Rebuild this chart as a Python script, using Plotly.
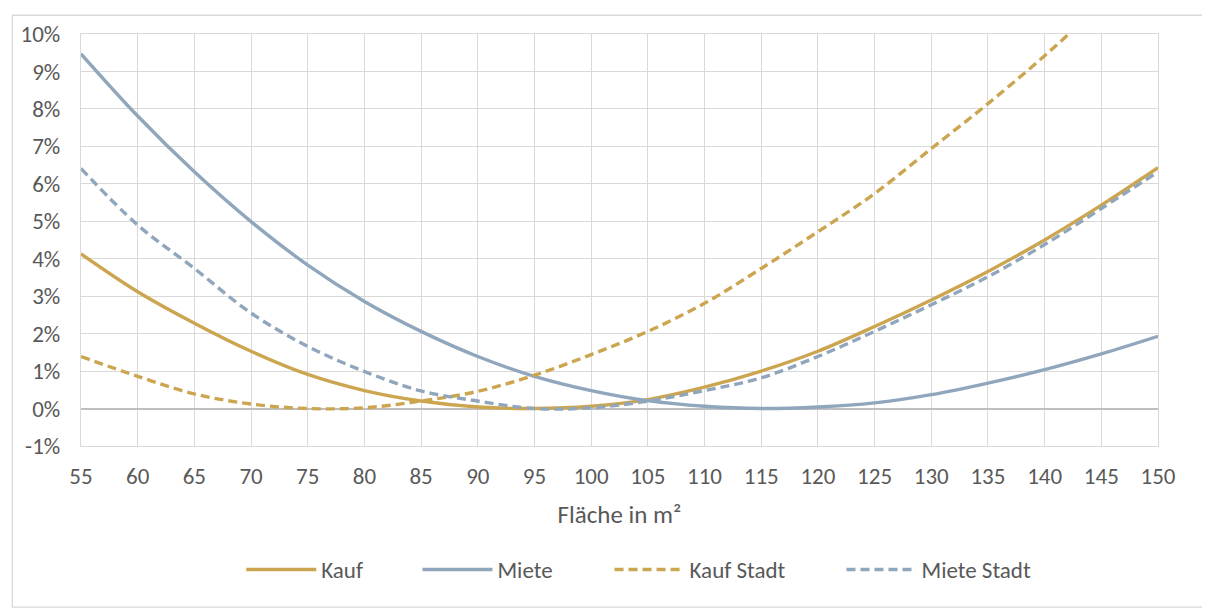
import plotly.graph_objects as go

flaeche = [55, 60, 65, 70, 75, 80, 85, 90, 95, 100, 105, 110, 115, 120, 125, 130, 135, 140, 145, 150]
kauf = [4.13, 3.12, 2.28, 1.53, 0.91, 0.48, 0.20, 0.04, 0.00, 0.06, 0.24, 0.57, 1.00, 1.53, 2.19, 2.90, 3.66, 4.50, 5.43, 6.43]
miete = [9.47, 7.81, 6.32, 4.99, 3.83, 2.86, 2.06, 1.39, 0.86, 0.48, 0.21, 0.06, 0.00, 0.04, 0.15, 0.37, 0.68, 1.04, 1.46, 1.93]
kauf_stadt = [1.39, 0.86, 0.39, 0.12, 0.00, 0.02, 0.20, 0.46, 0.89, 1.44, 2.06, 2.81, 3.74, 4.72, 5.74, 6.94, 8.14, 9.42, 10.80, 12.20]
miete_stadt = [6.41, 4.90, 3.74, 2.55, 1.66, 0.99, 0.47, 0.20, 0.00, 0.02, 0.20, 0.48, 0.82, 1.39, 2.06, 2.77, 3.52, 4.38, 5.34, 6.32]
y_ticks = list(range(-1, 11))
y_labels = [f"{v}%" for v in y_ticks]
x_ticks = flaeche

GOLD = "#CCA550"
BLUE = "#90A6BC"
FONT = "Carlito, Open Sans, sans-serif"
TXT = "#595959"

L, R, T, B = 68, 60, 21, 172
PW = 1210 - L - R
PH = 610 - T - B

fig = go.Figure()
series = [
    ("Kauf", kauf, GOLD, "solid", "legend", 229),
    ("Miete", miete, BLUE, "solid", "legend2", 406),
    ("Kauf Stadt", kauf_stadt, GOLD, "9px,5px", "legend3", 599),
    ("Miete Stadt", miete_stadt, BLUE, "9px,5px", "legend4", 832),
]
legend_cfg = {}
for name, vals, col, dash, lg, lpx in series:
    fig.add_trace(go.Scatter(
        x=flaeche, y=vals, name=name, mode="lines", legend=lg,
        line=dict(color=col, width=3.4, dash=dash, shape="spline", smoothing=1.0),
        cliponaxis=True,
    ))
    legend_cfg[lg] = dict(orientation="h", x=(lpx - L) / PW, xanchor="left",
                          y=(PH - (563 - T)) / PH, yanchor="middle",
                          font=dict(size=23, color=TXT), bgcolor="rgba(0,0,0,0)",
                          itemwidth=70)

fig.update_layout(
    width=1210, height=610,
    margin=dict(l=L, r=R, t=T, b=B),
    paper_bgcolor="white", plot_bgcolor="white",
    font=dict(family=FONT, size=23, color=TXT),
    showlegend=True,
    shapes=[dict(type="rect", xref="paper", yref="paper",
                 x0=(-1 - L) / PW, x1=(1201 - L) / PW,
                 y0=(PH - (601 - T)) / PH, y1=(PH - (2 - T)) / PH,
                 line=dict(color="#D9D9D9", width=1.3), layer="below")],
    **legend_cfg,
)
fig.update_xaxes(
    range=[55, 150], tickvals=x_ticks, ticktext=[str(v) for v in x_ticks],
    showgrid=True, gridcolor="#D9D9D9", gridwidth=1.3,
    showline=True, linecolor="#D9D9D9", linewidth=1.3, mirror=True,
    zeroline=False, ticks="", ticklabelstandoff=9,
    tickfont=dict(size=23, color=TXT),
    title=dict(text="Fläche in m²", font=dict(size=25, color=TXT), standoff=16),
)
fig.update_yaxes(
    range=[-1, 10], tickvals=y_ticks, ticktext=y_labels,
    showgrid=True, gridcolor="#D9D9D9", gridwidth=1.3,
    showline=True, linecolor="#D9D9D9", linewidth=1.3, mirror=True,
    zeroline=True, zerolinecolor="#BFBFBF", zerolinewidth=1.5,
    ticks="", ticklabelstandoff=15,
    tickfont=dict(size=23, color=TXT),
)

fig.write_html("out.html")
